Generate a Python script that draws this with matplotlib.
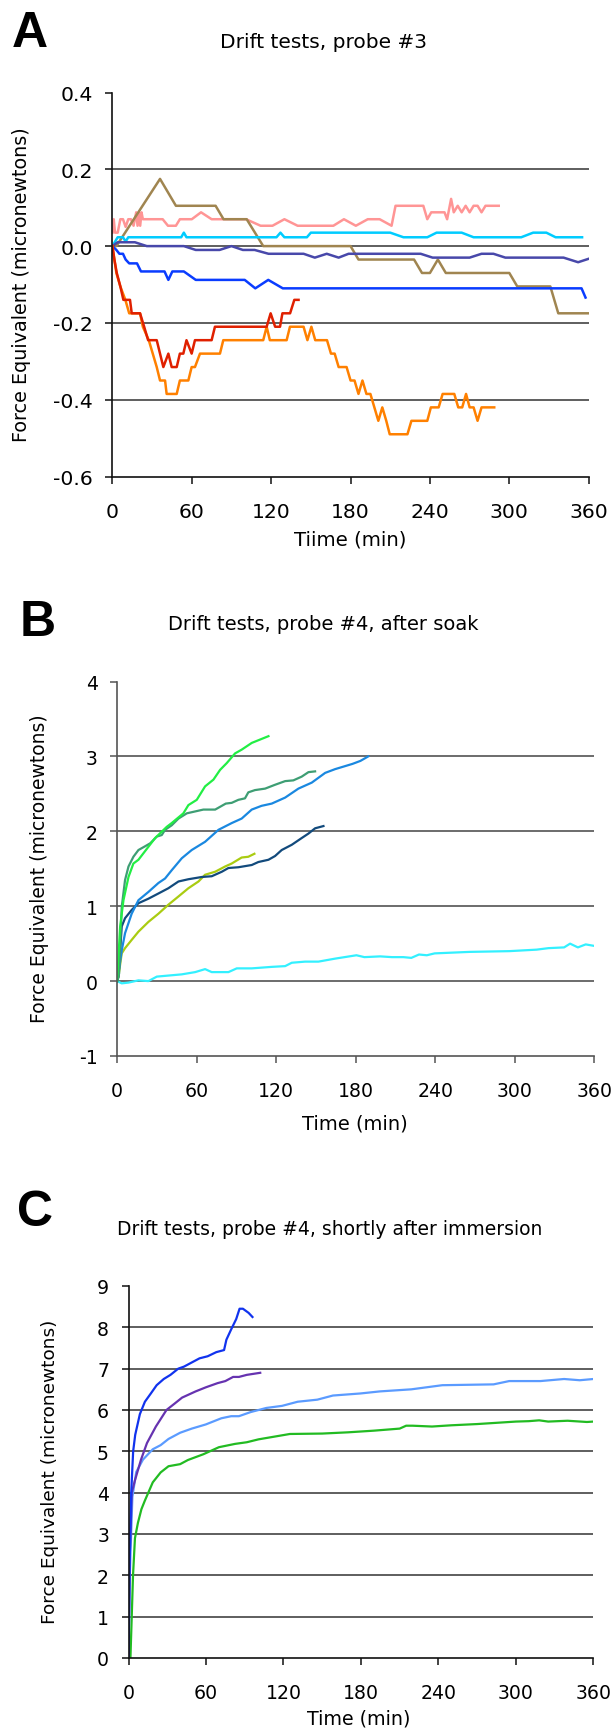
import matplotlib
matplotlib.use("Agg")
import matplotlib.pyplot as plt
from matplotlib.ticker import FixedLocator, FormatStrFormatter

plt.rcParams['font.family'] = ['DejaVu Sans']
plt.rcParams['axes.unicode_minus'] = False

W, H = 613, 1731

# ---------------- Panel A data ----------------
a_title = "Drift tests, probe #3"
a_xlabel = "Tiime (min)"
a_yticks = [-0.6, -0.4, -0.2, 0.0, 0.2, 0.4]
a_xticks = [0, 60, 120, 180, 240, 300, 360]

a_pink_t = [0, 1, 2, 4, 6, 8, 10, 12, 14, 16, 18, 19, 20, 21, 22, 23, 24, 38, 42, 48, 51, 60, 67, 75, 101,
            112, 121, 130, 140, 167, 175, 184, 193, 202, 211, 214, 235, 238, 241, 251, 253, 256, 258, 261,
            264, 267, 270, 273, 276, 279, 282, 285, 292]
a_pink_v = [0.035, 0.07, 0.035, 0.035, 0.07, 0.07, 0.05, 0.07, 0.07, 0.053, 0.088, 0.053, 0.088, 0.053,
            0.088, 0.07, 0.07, 0.07, 0.053, 0.053, 0.07, 0.07, 0.088, 0.07, 0.07, 0.053, 0.053, 0.07, 0.053,
            0.053, 0.07, 0.053, 0.07, 0.07, 0.053, 0.105, 0.105, 0.07, 0.088, 0.088, 0.07, 0.123, 0.088,
            0.105, 0.088, 0.105, 0.088, 0.105, 0.105, 0.088, 0.105, 0.105, 0.105]

a_brown_t = [0, 3, 36, 48, 78, 84, 101.5, 114, 180, 186, 228, 234, 240, 246, 252, 300, 306, 331, 337, 360]
a_brown_v = [0, 0, 0.175, 0.105, 0.105, 0.07, 0.07, 0, 0, -0.035, -0.035, -0.07, -0.07, -0.035, -0.07,
             -0.07, -0.105, -0.105, -0.175, -0.175]

a_cyan_t = [0, 4, 8, 10, 12, 52, 54, 56, 124, 127, 130, 147, 150, 210, 220, 238, 245, 264, 273, 309, 318,
            328, 335, 355]
a_cyan_v = [0, 0.023, 0.023, 0.012, 0.023, 0.023, 0.035, 0.023, 0.023, 0.035, 0.023, 0.023, 0.035, 0.035,
            0.023, 0.023, 0.035, 0.035, 0.023, 0.023, 0.035, 0.035, 0.023, 0.023]

a_slate_t = [0, 4, 17, 26, 54, 63, 81, 90, 98.6, 107.5, 118, 144.5, 153, 162, 171, 178.5, 233, 242, 270,
             279, 288, 297, 341, 352, 360]
a_slate_v = [0, 0.01, 0.01, 0, 0, -0.01, -0.01, 0, -0.01, -0.01, -0.02, -0.02, -0.03, -0.02, -0.03, -0.02,
             -0.02, -0.03, -0.03, -0.02, -0.02, -0.03, -0.03, -0.042, -0.033]

a_blue_t = [0, 3, 5.3, 8, 10, 12.7, 18.6, 21.6, 39.4, 42.3, 45.3, 54, 63, 100, 108, 117.8, 128.8, 354.6, 357.6]
a_blue_v = [0, -0.01, -0.02, -0.02, -0.035, -0.045, -0.045, -0.066, -0.066, -0.088, -0.066, -0.066, -0.088,
            -0.088, -0.11, -0.088, -0.11, -0.11, -0.134]

a_red_t = [0, 1.5, 3.3, 6, 8.3, 13.3, 14.6, 20.9, 24, 27, 33.5, 36, 38.5, 42.3, 44.8, 48.6, 51, 53.6, 56,
           59.9, 62.4, 75, 77.5, 116.6, 119.6, 123, 126.7, 128.5, 134.3, 137.5, 140.7]
a_red_v = [0, -0.035, -0.07, -0.105, -0.14, -0.14, -0.175, -0.175, -0.21, -0.245, -0.245, -0.28, -0.315,
           -0.28, -0.315, -0.315, -0.28, -0.28, -0.245, -0.28, -0.245, -0.245, -0.21, -0.21, -0.175, -0.21,
           -0.21, -0.175, -0.175, -0.14, -0.14]

a_orange_t = [0, 3, 6, 9.8, 12.7, 16.5, 20.9, 23, 27.5, 30.5, 33.5, 36, 39.8, 41, 48.6, 51, 57.4, 59.9,
              62.4, 66.2, 81.3, 83.8, 114, 116.6, 119, 131.7, 134.2, 144.5, 147.4, 150.4, 153.3, 162.2,
              165.2, 168, 171, 177, 180, 183, 186, 189, 192, 195, 198, 201, 204, 207, 209.6, 223, 226, 238,
              240.7, 246.6, 249.6, 258.4, 261.4, 264.4, 267.3, 270, 273, 276, 279, 288.6]
a_orange_v = [0, -0.07, -0.105, -0.14, -0.175, -0.175, -0.175, -0.21, -0.245, -0.28, -0.315, -0.35, -0.35,
              -0.385, -0.385, -0.35, -0.35, -0.315, -0.315, -0.28, -0.28, -0.245, -0.245, -0.21, -0.245,
              -0.245, -0.21, -0.21, -0.245, -0.21, -0.245, -0.245, -0.28, -0.28, -0.315, -0.315, -0.35,
              -0.35, -0.385, -0.35, -0.385, -0.385, -0.42, -0.455, -0.42, -0.455, -0.49, -0.49, -0.455,
              -0.455, -0.42, -0.42, -0.385, -0.385, -0.42, -0.42, -0.385, -0.42, -0.42, -0.455, -0.42, -0.42]

# ---------------- Panel B data ----------------
b_title = "Drift tests, probe #4, after soak"
b_xlabel = "Time (min)"
b_yticks = [-1, 0, 1, 2, 3, 4]
b_xticks = [0, 60, 120, 180, 240, 300, 360]

b_green_t = [0, 2.3, 4.8, 8.6, 12.3, 16.1, 28.7, 37.5, 41.2, 50, 53.8, 60.1, 66.4, 72.7, 77.7, 82.7, 89,
             94, 101.6, 114.2]
b_green_v = [0, 0.73, 1.08, 1.39, 1.57, 1.62, 1.91, 2.06, 2.11, 2.24, 2.35, 2.42, 2.6, 2.69, 2.82, 2.91,
             3.04, 3.09, 3.18, 3.27]

b_sea_t = [0, 1.5, 3.5, 6, 8.6, 12.3, 16.1, 21.1, 25, 30, 33.7, 36.2, 41.2, 46.3, 52.6, 57.6, 65.1, 74,
           82, 86.5, 91.5, 96.5, 99, 104, 111.7, 119, 126.8, 133, 139.3, 144.4, 149.4]
b_sea_v = [0, 0.1, 0.99, 1.35, 1.53, 1.66, 1.75, 1.80, 1.84, 1.93, 1.95, 2.02, 2.08, 2.17, 2.24, 2.26,
           2.29, 2.29, 2.37, 2.38, 2.42, 2.44, 2.52, 2.55, 2.57, 2.62, 2.67, 2.68, 2.73, 2.79, 2.80]

b_blue_t = [0, 1, 3.5, 6, 11, 16.1, 23.6, 31.2, 36.2, 41.2, 48.8, 56.3, 66.4, 76.5, 86.5, 94, 101.6, 109,
            116.7, 126.8, 136.8, 146.9, 157, 164.5, 177.6, 183.6, 189.5]
b_blue_v = [0, 0.1, 0.41, 0.64, 0.9, 1.08, 1.19, 1.31, 1.37, 1.48, 1.64, 1.75, 1.86, 2.02, 2.11, 2.17,
            2.29, 2.34, 2.37, 2.45, 2.57, 2.65, 2.78, 2.83, 2.9, 2.94, 3.0]

b_navy_t = [0, 1, 3.5, 6, 11, 16.1, 23.6, 31.2, 38.7, 46.3, 53.8, 63.9, 71.4, 79, 84, 91.5, 101.6, 106.6,
            114.2, 119.2, 124.2, 131.8, 139.3, 144.4, 149.4, 155.7]
b_navy_v = [0, 0.05, 0.73, 0.84, 0.95, 1.04, 1.10, 1.17, 1.24, 1.33, 1.36, 1.39, 1.40, 1.46, 1.51, 1.52,
            1.55, 1.59, 1.62, 1.67, 1.75, 1.82, 1.91, 1.97, 2.04, 2.07]

b_yg_t = [0, 1, 3.5, 6, 11, 16.1, 23.6, 31.2, 38.7, 46.3, 53.8, 61.4, 66.4, 74, 81.5, 86.5, 94, 99, 103.6]
b_yg_v = [0, 0.06, 0.37, 0.44, 0.55, 0.66, 0.79, 0.9, 1.02, 1.13, 1.24, 1.33, 1.42, 1.46, 1.53, 1.57, 1.65,
          1.66, 1.70]

b_cyan_t = [0, 3.5, 8.6, 16.1, 23.6, 30, 36.2, 48.8, 58.9, 66.4, 71.4, 84, 90.3, 101.6, 116.7, 126.8,
            131.8, 141.8, 151.9, 164.5, 180.6, 186.6, 198.5, 207.4, 216, 222, 227.8, 233.7, 239.6, 266, 296,
            316.6, 325.5, 337.3, 341.8, 347.7, 353.6, 360]
b_cyan_v = [0, -0.03, -0.02, 0.01, 0, 0.06, 0.07, 0.09, 0.12, 0.16, 0.12, 0.12, 0.17, 0.17, 0.19, 0.2,
            0.245, 0.26, 0.26, 0.30, 0.345, 0.32, 0.33, 0.32, 0.32, 0.31, 0.355, 0.345, 0.37, 0.39, 0.40,
            0.42, 0.44, 0.45, 0.50, 0.45, 0.49, 0.47]

# ---------------- Panel C data ----------------
c_title = "Drift tests, probe #4, shortly after immersion"
c_xlabel = "Time (min)"
c_yticks = [0, 1, 2, 3, 4, 5, 6, 7, 8, 9]
c_xticks = [0, 60, 120, 180, 240, 300, 360]

c_blue_t = [0, 1, 2.1, 3.6, 5.2, 8.8, 12.7, 17.3, 21.8, 27.3, 32.5, 38.5, 43, 49, 55, 61.3, 68, 74, 75.8,
            79.5, 83.4, 86, 88.6, 93, 96]
c_blue_v = [0, 2.5, 4.0, 5.0, 5.4, 5.9, 6.2, 6.4, 6.6, 6.75, 6.85, 7.0, 7.05, 7.15, 7.25, 7.3, 7.4, 7.45,
            7.7, 7.95, 8.2, 8.45, 8.45, 8.35, 8.25]

c_purple_t = [0, 1, 2.5, 5, 9.7, 14.3, 21.2, 29.4, 35.5, 41.5, 52, 60, 69, 75, 81, 85.5, 91.6, 102]
c_purple_v = [0, 2.5, 4.0, 4.3, 4.8, 5.2, 5.6, 6.0, 6.15, 6.3, 6.45, 6.55, 6.65, 6.7, 6.8, 6.8, 6.85, 6.9]

c_lblue_t = [0, 1, 3, 6, 11.2, 18.8, 24.9, 31, 40, 49, 59.8, 71.9, 79.5, 85.5, 94.6, 106.8, 118.9, 131,
             146.2, 158.3, 179.6, 194.7, 219, 231, 243, 282.7, 294.8, 319, 337.3, 349.4, 360]
c_lblue_v = [0, 2.0, 3.9, 4.5, 4.8, 5.05, 5.15, 5.3, 5.45, 5.55, 5.65, 5.8, 5.85, 5.85, 5.95, 6.05, 6.1,
             6.2, 6.25, 6.35, 6.4, 6.45, 6.5, 6.55, 6.6, 6.62, 6.7, 6.7, 6.75, 6.72, 6.75]

c_green_t = [1.5, 2.5, 3.5, 5, 7.3, 10, 12.7, 18.8, 24.9, 31, 40, 46, 58, 70, 82.5, 91.6, 100.7, 125, 150,
             170, 190, 210, 215, 220, 235, 250, 270, 290, 300, 310, 318, 325, 340, 355, 360]
c_green_v = [0, 1.0, 2.0, 2.9, 3.27, 3.6, 3.81, 4.25, 4.49, 4.64, 4.69, 4.79, 4.93, 5.1, 5.18, 5.22, 5.29,
             5.42, 5.43, 5.46, 5.5, 5.55, 5.62, 5.62, 5.6, 5.63, 5.66, 5.7, 5.72, 5.73, 5.75, 5.72, 5.74,
             5.71, 5.72]

fig = plt.figure(figsize=(W / 100, H / 100), dpi=100)


def rect(L, R, T, B):
    return [L / W, 1 - B / H, (R - L) / W, (B - T) / H]


def ftext(x, y, s, **kw):
    fig.text(x / W, 1 - y / H, s, ha='center', va='center', **kw)


def style(ax, xt, yt, ylim, fmt, fs, spine_color, grid_color):
    ax.set_xlim(0, 360)
    ax.set_ylim(*ylim)
    ax.xaxis.set_major_locator(FixedLocator(xt))
    ax.yaxis.set_major_locator(FixedLocator(yt))
    ax.yaxis.set_major_formatter(FormatStrFormatter(fmt))
    for s in ['top', 'right']:
        ax.spines[s].set_visible(False)
    for s in ['left', 'bottom']:
        ax.spines[s].set_color(spine_color)
        ax.spines[s].set_linewidth(1.2)
    ax.tick_params(axis='both', direction='out', length=5, width=1.1, color=spine_color,
                   labelsize=fs, colors='black')
    ax.tick_params(axis='y', pad=9)
    ax.tick_params(axis='x', pad=13)
    for v in yt[1:-1]:
        ax.axhline(v, color=grid_color, lw=1.1, zorder=0.5)
    ax.set_facecolor('white')


# ---------- Panel A ----------
axA = fig.add_axes(rect(112.4, 588.7, 93.5, 477.5))
lw = 1.8
axA.plot(a_pink_t, a_pink_v, color='#FF9595', lw=lw)
axA.plot(a_brown_t, a_brown_v, color='#A08550', lw=lw)
axA.plot(a_cyan_t, a_cyan_v, color='#00CCFF', lw=lw)
axA.plot(a_slate_t, a_slate_v, color='#4848AA', lw=lw)
axA.plot(a_blue_t, a_blue_v, color='#0A3CFF', lw=lw)
axA.plot(a_orange_t, a_orange_v, color='#FF8000', lw=lw)
axA.plot(a_red_t, a_red_v, color='#E02000', lw=lw)
style(axA, a_xticks, a_yticks, (-0.6, 0.4), '%.1f', 14.7, '#111111', '#333333')
ftext(30, 34, 'A', fontsize=36, fontweight='bold', family='Liberation Sans')
ftext(323, 43, a_title, fontsize=14.5)
ftext(350.6, 540, a_xlabel, fontsize=14.2)
ftext(21.5, 284.5, 'Force Equivalent (micronewtons)', fontsize=13.8, rotation=90)

# ---------- Panel B ----------
axB = fig.add_axes(rect(117.1, 594.2, 682.5, 1057))
lw = 1.6
axB.plot(b_cyan_t, b_cyan_v, color='#33F0FF', lw=lw)
axB.plot(b_yg_t, b_yg_v, color='#AACC11', lw=lw)
axB.plot(b_navy_t, b_navy_v, color='#124A7C', lw=lw)
axB.plot(b_blue_t, b_blue_v, color='#1A88E0', lw=lw)
axB.plot(b_sea_t, b_sea_v, color='#3E9E74', lw=lw)
axB.plot(b_green_t, b_green_v, color='#22EE44', lw=lw)
style(axB, b_xticks, b_yticks, (-1, 4), '%d', 13.6, '#555555', '#444444')
ftext(38, 623, 'B', fontsize=36, fontweight='bold', family='Liberation Sans')
ftext(323, 625, b_title, fontsize=14)
ftext(354.5, 1124, b_xlabel, fontsize=14)
ftext(40, 868.6, 'Force Equivalent (micronewtons)', fontsize=13.5, rotation=90)

# ---------- Panel C ----------
axC = fig.add_axes(rect(128.5, 593.4, 1287, 1659))
lw = 1.6
axC.plot(c_green_t, c_green_v, color='#22BB22', lw=lw)
axC.plot(c_lblue_t, c_lblue_v, color='#5B9BFF', lw=lw)
axC.plot(c_purple_t, c_purple_v, color='#6633B0', lw=lw)
axC.plot(c_blue_t, c_blue_v, color='#1133EE', lw=lw)
style(axC, c_xticks, c_yticks, (0, 9), '%d', 13.6, '#111111', '#333333')
ftext(35, 1213, 'C', fontsize=36, fontweight='bold', family='Liberation Sans')
ftext(330, 1230, c_title, fontsize=13.5)
ftext(359, 1719, c_xlabel, fontsize=13.7)
ftext(50, 1472, 'Force Equivalent (micronewtons)', fontsize=13.3, rotation=90)

fig.savefig('out.png', dpi=100, facecolor='white')
